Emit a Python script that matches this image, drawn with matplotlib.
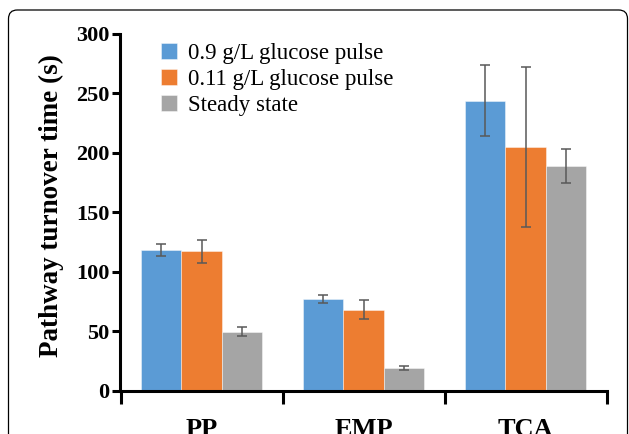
"""Grouped bar chart of pathway turnover times with error bars."""

import matplotlib.pyplot as plt
import numpy as np
from matplotlib.patches import FancyBboxPatch

pathways = ["PP", "EMP", "TCA"]
series = ["0.9 g/L glucose pulse", "0.11 g/L glucose pulse", "Steady state"]
colors = ["#5B9BD5", "#ED7D31", "#A5A5A5"]

pulse_09 = [118, 77, 244]
pulse_09_err = [5, 3.5, 30]
pulse_011 = [117, 68, 205]
pulse_011_err = [9.5, 8, 67]
steady = [49.5, 19, 189]
steady_err = [4, 1.5, 14.5]

values = [pulse_09, pulse_011, steady]
errors = [pulse_09_err, pulse_011_err, steady_err]

plt.rcParams["font.family"] = ["Liberation Serif", "DejaVu Serif"]

fig = plt.figure(figsize=(6.29, 4.34), dpi=100)
ax = fig.add_axes([120.5 / 629, 0.1002, 486 / 629, 0.8215])

x = np.arange(len(pathways))
width = 0.25
for i, (vals, errs) in enumerate(zip(values, errors)):
    pos = x + (i - 1) * width
    ax.bar(pos, vals, width, color=colors[i], edgecolor=(1, 1, 1, 0.5),
           linewidth=0.6, label=series[i], zorder=2)
    ax.errorbar(pos, vals, yerr=errs, fmt="none", ecolor="#595959",
                elinewidth=1.1, capsize=3.8, capthick=1.1, zorder=3)

ax.set_xlim(-0.5, 2.5)
ax.set_ylim(0, 300)
ax.set_yticks(np.arange(0, 301, 50))
ax.set_xticks([-0.5, 0.5, 1.5, 2.5])
ax.set_xticklabels([])
ax.set_xticks(x, minor=True)
ax.set_xticklabels(pathways, minor=True, fontsize=19, fontweight="bold")
ax.tick_params(axis="x", which="major", direction="out", length=9, width=2.2)
ax.tick_params(axis="x", which="minor", length=0, pad=20)
ax.tick_params(axis="y", direction="out", length=6, width=2.2, labelsize=16, pad=2)
for lab in ax.get_yticklabels():
    lab.set_fontweight("bold")

for side in ("top", "right"):
    ax.spines[side].set_visible(False)
for side in ("left", "bottom"):
    ax.spines[side].set_linewidth(2.2)

ax.set_ylabel("Pathway turnover time (s)", fontsize=19.5, fontweight="bold", labelpad=9)
ax.yaxis.label.set_y(0.52)

ax.legend(loc="upper left", bbox_to_anchor=(0.065, 1.0), frameon=False,
          fontsize=16.5, handlelength=0.7, handleheight=0.7, handletextpad=0.45,
          labelspacing=0.22, borderaxespad=0)

# rounded panel frame running off the bottom edge
frame = FancyBboxPatch((8.5 / 629, -0.2), 619 / 629, 1.2 - 10 / 434,
                       boxstyle="round,pad=0,rounding_size=0.014",
                       transform=fig.transFigure, fill=False,
                       edgecolor="black", linewidth=0.9, mutation_aspect=629 / 434)
fig.patches.append(frame)

fig.savefig("out.png", dpi=100)
